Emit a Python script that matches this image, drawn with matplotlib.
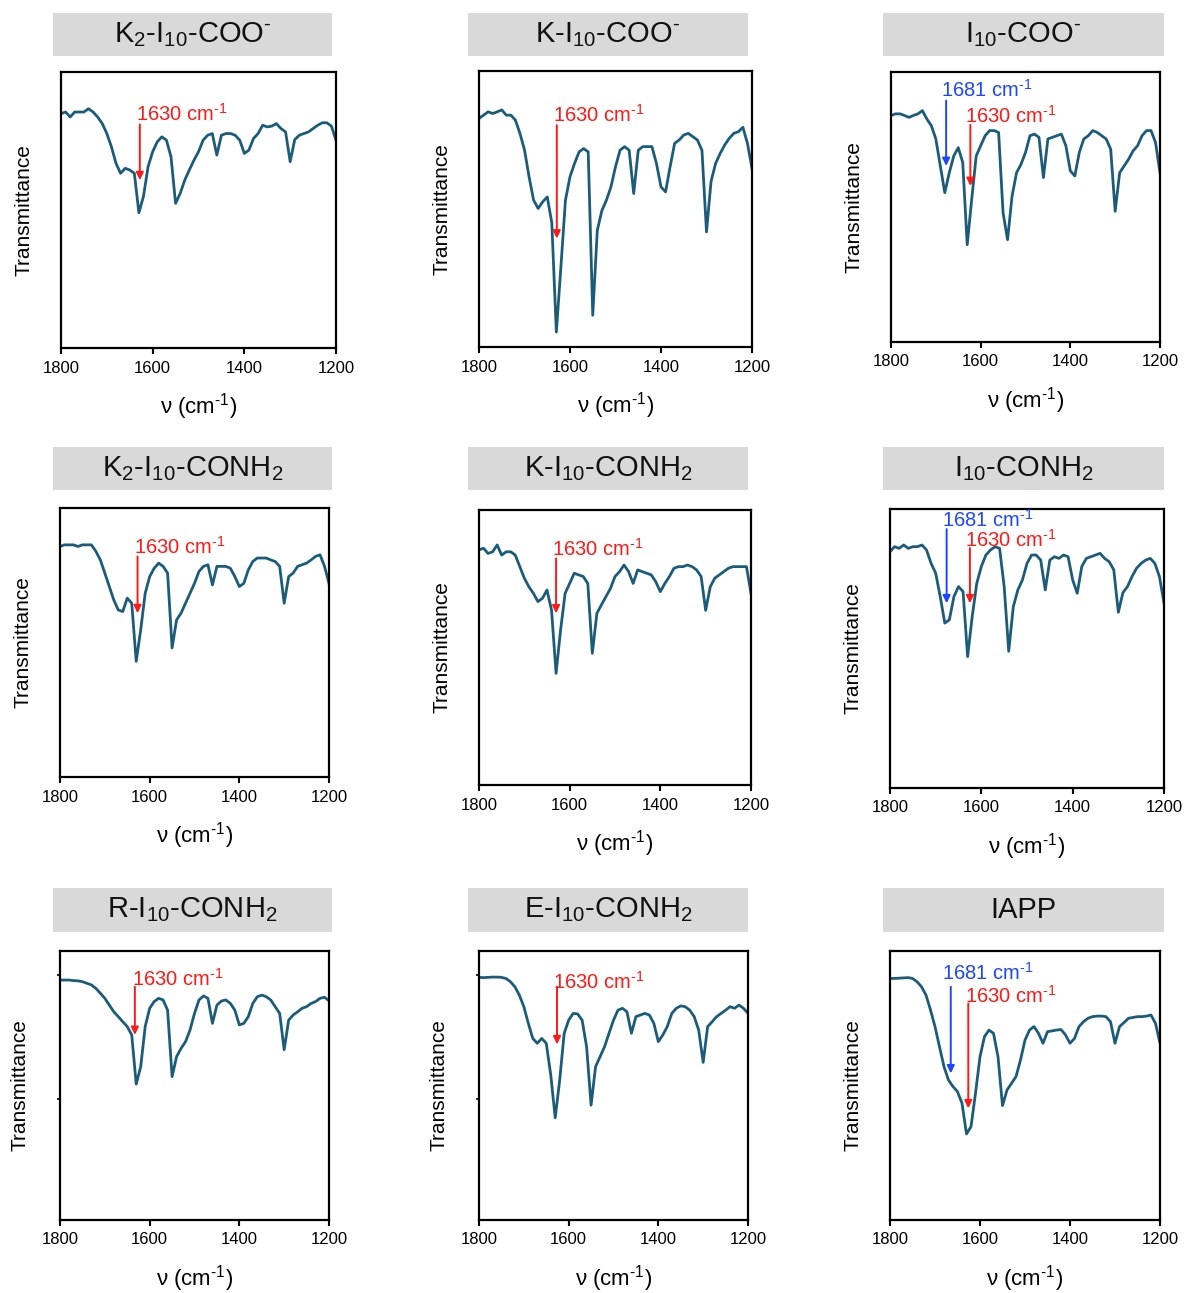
import numpy as np
import matplotlib
matplotlib.use("Agg")
import matplotlib.pyplot as plt
from matplotlib.patches import Rectangle

plt.rcParams['font.family'] = ['Liberation Sans', 'DejaVu Sans']
plt.rcParams['mathtext.fontset'] = 'custom'
plt.rcParams['mathtext.rm'] = 'Liberation Sans'
plt.rcParams['mathtext.it'] = 'Liberation Sans'
plt.rcParams['mathtext.default'] = 'regular'

# wavenumber grid, 1800 -> 1200 cm-1 in 10 cm-1 steps
wavenumber = np.arange(1800, 1195, -10)

# transmittance, % of axis height
k2_coo = [84.9, 85.5, 83.7, 85.5, 85.5, 85.5, 86.7, 85.5, 83.7, 81.3,
          77.7, 72.9, 66.9, 63.3, 65.1, 64.5, 63.3, 49.0, 55.0, 65.7,
          71.1, 74.7, 76.5, 75.3, 69.3, 52.4, 56.0, 60.8, 64.5, 68.0,
          71.1, 75.3, 77.1, 77.7, 69.9, 77.1, 77.7, 77.7, 77.1, 75.3,
          70.5, 71.7, 75.9, 77.7, 80.7, 80.1, 80.4, 81.3, 79.5, 78.3,
          67.5, 75.5, 77.1, 77.7, 78.3, 79.5, 80.7, 81.6, 81.6, 80.4,
          75.3]
k_coo = [82.8, 84.0, 85.2, 84.6, 85.2, 85.9, 84.0, 84.0, 82.2, 77.4,
         71.4, 61.7, 53.2, 50.2, 52.6, 54.4, 45.0, 5.4, 29.0, 53.2,
         61.7, 66.5, 70.7, 71.9, 70.7, 11.5, 42.3, 49.4, 53.2, 58.0,
         65.3, 71.3, 72.6, 71.3, 55.6, 71.3, 72.6, 72.6, 72.6, 66.5,
         58.0, 56.2, 65.3, 73.8, 75.0, 76.8, 77.4, 76.2, 75.0, 71.3,
         41.7, 60.0, 66.5, 70.1, 73.2, 75.6, 77.4, 78.0, 79.6, 73.8,
         64.7]
i10_coo = [83.9, 84.5, 84.5, 83.9, 83.2, 83.9, 84.5, 85.7, 82.6, 80.1,
           75.2, 65.2, 55.3, 62.7, 68.9, 72.0, 66.5, 36.0, 52.8, 68.9,
           72.7, 76.4, 78.3, 78.3, 77.6, 47.8, 37.9, 54.0, 62.7, 65.8,
           70.2, 76.4, 77.0, 75.8, 60.9, 75.2, 75.8, 76.4, 77.0, 72.7,
           63.4, 61.5, 70.2, 75.2, 76.4, 78.3, 77.6, 76.4, 75.2, 71.4,
           48.4, 62.7, 65.2, 67.7, 70.8, 72.7, 76.4, 78.3, 78.3, 73.9,
           62.7]
k2_conh2 = [85.7, 86.3, 86.3, 86.3, 85.7, 86.3, 86.3, 86.3, 83.9, 80.7,
            75.8, 70.8, 65.8, 62.1, 61.5, 66.5, 64.6, 43.0, 54.7, 68.3,
            74.5, 77.6, 79.5, 78.3, 75.8, 48.0, 58.4, 60.9, 64.6, 68.3,
            72.0, 76.4, 78.3, 78.9, 71.4, 78.3, 78.3, 78.3, 77.6, 74.5,
            70.8, 72.0, 77.0, 80.1, 81.4, 81.4, 81.4, 80.7, 80.1, 78.3,
            64.6, 74.5, 75.8, 78.3, 78.9, 79.5, 80.7, 82.0, 82.6, 78.3,
            72.0]
k_conh2 = [85.5, 86.1, 84.2, 84.8, 87.3, 83.6, 84.8, 84.8, 83.6, 79.4,
           75.2, 72.1, 69.7, 66.7, 67.9, 70.9, 63.6, 40.6, 56.4, 69.7,
           73.3, 77.0, 76.4, 75.8, 73.3, 47.9, 62.4, 65.5, 68.5, 71.5,
           75.8, 77.6, 80.0, 77.6, 73.3, 78.2, 77.6, 77.0, 76.4, 73.9,
           70.3, 73.3, 75.8, 78.8, 79.4, 79.4, 80.0, 79.4, 78.2, 75.8,
           63.5, 72.0, 75.2, 76.4, 77.6, 78.8, 79.4, 79.4, 79.4, 79.4,
           69.7]
i10_conh2 = [84.7, 86.5, 85.9, 87.1, 85.9, 86.5, 86.5, 87.1, 85.3, 80.5,
             77.0, 68.6, 59.1, 60.3, 68.6, 72.2, 70.4, 47.1, 61.4, 73.4,
             79.4, 83.5, 85.3, 86.5, 85.9, 72.2, 49.0, 65.0, 71.0, 74.6,
             80.5, 83.5, 83.5, 81.7, 71.0, 81.7, 82.9, 82.3, 83.5, 82.9,
             74.6, 69.8, 79.4, 82.3, 82.9, 83.5, 84.1, 82.3, 81.1, 78.2,
             63.0, 70.0, 72.2, 75.8, 78.8, 80.5, 81.7, 82.3, 80.5, 75.8,
             66.3]
r_conh2 = [89.2, 89.2, 89.2, 89.0, 88.9, 88.6, 88.0, 87.4, 86.1, 84.3,
           82.4, 79.9, 77.4, 75.6, 73.7, 71.9, 68.8, 50.5, 57.0, 71.9,
           78.7, 81.2, 82.4, 81.8, 78.0, 53.3, 60.7, 63.8, 66.3, 70.6,
           76.8, 81.8, 83.3, 82.4, 73.1, 79.9, 81.4, 81.8, 80.5, 78.0,
           72.5, 73.1, 75.6, 80.5, 83.0, 83.6, 83.0, 81.8, 79.3, 76.8,
           63.3, 74.3, 76.2, 77.4, 78.7, 79.3, 80.5, 81.2, 82.4, 82.8,
           81.5]
e_conh2 = [90.2, 90.1, 90.2, 90.3, 90.3, 90.2, 89.8, 88.6, 86.7, 83.6,
           79.3, 73.1, 67.5, 65.7, 67.5, 65.7, 54.0, 38.0, 52.0, 69.4,
           74.3, 76.8, 76.6, 74.3, 64.4, 42.7, 57.0, 60.7, 64.4, 69.4,
           74.3, 78.0, 78.7, 77.4, 69.4, 75.6, 76.2, 76.8, 76.2, 73.1,
           66.3, 68.8, 71.9, 76.8, 78.7, 79.6, 79.3, 78.0, 75.6, 70.6,
           58.6, 71.9, 73.7, 75.6, 76.8, 78.0, 79.3, 78.7, 79.9, 78.7,
           76.8]
iapp = [89.8, 89.8, 89.9, 90.0, 90.1, 89.8, 88.6, 86.7, 83.6, 78.1,
        71.9, 64.4, 57.0, 52.0, 49.6, 47.7, 43.4, 32.0, 34.7, 47.1,
        60.7, 68.2, 70.6, 69.4, 60.7, 42.5, 48.3, 50.8, 53.3, 59.5,
        66.9, 70.6, 71.9, 69.4, 65.7, 70.0, 70.3, 70.6, 70.8, 68.8,
        65.7, 67.5, 71.9, 73.7, 75.0, 75.6, 75.8, 75.8, 75.6, 73.7,
        65.7, 71.9, 73.4, 75.0, 75.3, 75.6, 75.6, 75.8, 76.2, 73.1,
        65.7]

titles = [r'K$_2$-I$_{10}$-COO$^{\text{-}}$', r'K-I$_{10}$-COO$^{\text{-}}$',
          r'I$_{10}$-COO$^{\text{-}}$',
          r'K$_2$-I$_{10}$-CONH$_2$', r'K-I$_{10}$-CONH$_2$', r'I$_{10}$-CONH$_2$',
          r'R-I$_{10}$-CONH$_2$', r'E-I$_{10}$-CONH$_2$', 'IAPP']
spectra = [k2_coo, k_coo, i10_coo, k2_conh2, k_conh2, i10_conh2, r_conh2, e_conh2, iapp]

LINE = '#1d5c79'
RED = '#ff1a1a'
BLUE = '#1f45ff'
red_label = r'1630 cm$^{\text{-}1}$'
blue_label = r'1681 cm$^{\text{-}1}$'

# (label, colour, text x, text y, arrow x, arrow tail y, arrow tip y)
marks = [
    [(red_label, RED, 1636, 85.0, 1628, 81.0, 60.8)],
    [(red_label, RED, 1637, 84.0, 1629, 80.4, 39.3)],
    [(blue_label, BLUE, 1689, 93.5, 1677, 89.4, 65.2),
     (red_label, RED, 1636, 83.6, 1623, 80.4, 57.8)],
    [(red_label, RED, 1636, 85.5, 1627, 82.0, 60.9)],
    [(red_label, RED, 1639, 86.0, 1630, 82.4, 62.4)],
    [(blue_label, BLUE, 1687, 96.2, 1676, 92.8, 66.2),
     (red_label, RED, 1636, 89.0, 1625, 86.0, 66.2)],
    [(red_label, RED, 1640, 89.8, 1633, 86.7, 68.8)],
    [(red_label, RED, 1635, 88.6, 1626, 86.7, 65.3)],
    [(blue_label, BLUE, 1685, 91.7, 1665, 86.7, 54.5),
     (red_label, RED, 1633, 83.3, 1626, 80.5, 41.5)],
]

# axes boxes in pixels: left, top, right, bottom
axes_px = [(61, 72, 336, 348), (479, 71, 752, 347), (891, 72, 1160, 342),
           (60, 508, 329, 777), (479, 510, 751, 785), (890, 509, 1164, 788),
           (60, 951, 329, 1220), (479, 951, 748, 1220), (890, 951, 1160, 1220)]
title_cols = [(53, 332), (468, 748), (883, 1164)]
title_rows = [(13, 56), (447, 490), (888, 932)]

W, H = 1185, 1293
fig = plt.figure(figsize=(W / 100, H / 100), dpi=100)


def fig_rect(left, top, right, bottom):
    return [left / W, 1 - bottom / H, (right - left) / W, (bottom - top) / H]


for i, (title, spec) in enumerate(zip(titles, spectra)):
    row, col = divmod(i, 3)

    # grey title banner
    x0, x1 = title_cols[col]
    y0, y1 = title_rows[row]
    r = fig_rect(x0, y0, x1, y1)
    fig.patches.append(Rectangle((r[0], r[1]), r[2], r[3], transform=fig.transFigure,
                                 facecolor='#d9d9d9', edgecolor='none'))
    fig.text(r[0] + r[2] / 2, r[1] + r[3] / 2, title, ha='center', va='center',
             fontsize=21, color='#111111')

    ax = fig.add_axes(fig_rect(*axes_px[i]))
    ax.plot(wavenumber, spec, color=LINE, lw=2.0, solid_joinstyle='round')
    ax.set_xlim(1800, 1200)
    ax.set_ylim(0, 100)
    ax.set_xticks([1800, 1600, 1400, 1200])
    if row == 2 and col < 2:
        ax.set_yticks([45, 91])
        ax.tick_params(axis='y', length=2, width=1.2, labelleft=False)
    else:
        ax.set_yticks([])
    ax.tick_params(axis='x', direction='out', length=4, width=1.5, labelsize=12, pad=5)
    for s in ax.spines.values():
        s.set_linewidth(1.6)
    ax.set_ylabel('Transmittance', fontsize=15, labelpad=20)
    ax.set_xlabel(r'$\nu$ (cm$^{\text{-}1}$)', fontsize=16, labelpad=11)

    for label, c, tx, ty, axx, tail, tip in marks[i]:
        ax.text(tx, ty, label, color=c, fontsize=14.5, ha='left', va='center')
        ax.annotate('', xy=(axx, tip), xytext=(axx, tail),
                    arrowprops=dict(arrowstyle='-|>,head_length=0.45,head_width=0.22',
                                    color=c, lw=1.4, shrinkA=0, shrinkB=0))

fig.savefig('out.png', dpi=100)
